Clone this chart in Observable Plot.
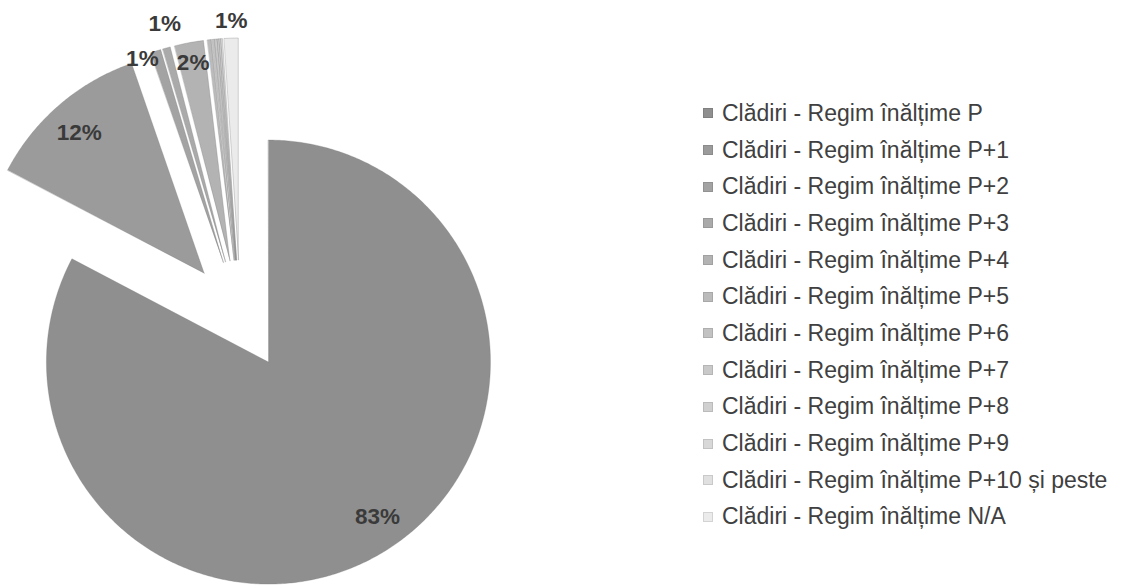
<!DOCTYPE html>
<html><head><meta charset="utf-8">
<script src="https://cdn.jsdelivr.net/npm/d3@7"></script>
<script src="https://cdn.jsdelivr.net/npm/@observablehq/plot@0.6"></script>
<style>
html,body{margin:0;padding:0;background:#fff;}
body{width:1125px;height:587px;overflow:hidden;position:relative;font-family:"Liberation Sans",Arial,sans-serif;}
#chart{position:absolute;left:0;top:0;}
#legend{position:absolute;left:703px;top:95px;}
.item{display:flex;align-items:center;height:36.7px;font-size:23px;color:#404040;white-space:nowrap;}
.sw{width:10px;height:10px;margin-right:9px;box-sizing:border-box;flex:none;}
</style></head><body>
<div id="chart"></div><div id="legend"></div>
<script>
// ---- data ----
const categories = [
  "Clădiri - Regim înălțime P",
  "Clădiri - Regim înălțime P+1",
  "Clădiri - Regim înălțime P+2",
  "Clădiri - Regim înălțime P+3",
  "Clădiri - Regim înălțime P+4",
  "Clădiri - Regim înălțime P+5",
  "Clădiri - Regim înălțime P+6",
  "Clădiri - Regim înălțime P+7",
  "Clădiri - Regim înălțime P+8",
  "Clădiri - Regim înălțime P+9",
  "Clădiri - Regim înălțime P+10 și peste",
  "Clădiri - Regim înălțime N/A"
];
const shares = [82.7, 12.0, 0.75, 0.55, 2.1, 0.25, 0.2, 0.15, 0.1, 0.1, 0.1, 1.0];

// ---- styles / layout ----
const palette = ["#8f8f8f","#9b9b9b","#a3a3a3","#aaaaaa","#b3b3b3","#bbbbbb",
                 "#c2c2c2","#c9c9c9","#d0d0d0","#d8d8d8","#e0e0e0","#ebebeb"];
const labelRadius = [0.85, 0.85, 0.99, 1.11, 0.91, 1, 1, 1, 1, 1, 1, 1.08];
const labelTurn   = [-4, -1, -4, 1, 0, 0, 0, 0, 0, 0, 0, 0];
const W = 690, H = 587;
const CX = 240, CY = 315, R = 222, EXPLODE = 55;

const rows = categories.map((cat, i) => ({cat, share: shares[i], i}));
const total = d3.sum(shares);
const arcs = d3.pie().sort(null).value(d => d.share)(rows);

const wedgePts = arcs.flatMap(a => {
  const mid = (a.startAngle + a.endAngle) / 2;
  const ax = CX + EXPLODE * Math.sin(mid), ay = CY - EXPLODE * Math.cos(mid);
  const n = Math.max(2, Math.ceil((a.endAngle - a.startAngle) / 0.01));
  return d3.range(n + 1).map(k => {
    const t = a.startAngle + (a.endAngle - a.startAngle) * k / n;
    return {cat: a.data.cat, px: ax + R * Math.sin(t), py: ay - R * Math.cos(t), ax, ay};
  });
});

const labels = arcs.map(a => {
  const i = a.data.i;
  const mid = (a.startAngle + a.endAngle) / 2;
  const ax = CX + EXPLODE * Math.sin(mid), ay = CY - EXPLODE * Math.cos(mid);
  const ang = mid + labelTurn[i] * Math.PI / 180;
  const rr = R * labelRadius[i];
  return {text: Math.round(a.data.share / total * 100) + "%",
          x: ax + rr * Math.sin(ang), y: ay - rr * Math.cos(ang)};
}).filter(d => d.text !== "0%");

const chart = Plot.plot({
  width: W, height: H, margin: 0,
  x: {domain: [0, W], range: [0, W], axis: null},
  y: {domain: [0, H], range: [0, H], axis: null},
  color: {domain: categories, range: palette},
  style: {background: "transparent", fontFamily: "Liberation Sans, Arial, sans-serif"},
  marks: [
    Plot.area(wedgePts, {x1: "px", y1: "py", x2: "ax", y2: "ay", z: "cat", fill: "cat", curve: "linear"}),
    Plot.area(wedgePts, {x1: "px", y1: "py", x2: "ax", y2: "ay", z: "cat", fill: "none",
      stroke: "#7a7a7a", strokeOpacity: 0.45, strokeWidth: 0.7, curve: "linear"}),
    Plot.text(labels, {x: "x", y: "y", text: "text", fontSize: 22.5, fontWeight: "bold", fill: "#3a3a3a"})
  ]
});
document.getElementById("chart").appendChild(chart);

const legend = document.getElementById("legend");
categories.forEach((c, i) => {
  const item = document.createElement("div");
  item.className = "item";
  const sw = document.createElement("div");
  sw.className = "sw";
  sw.style.background = palette[i];
  sw.style.border = "1px solid " + d3.color(palette[i]).darker(0.3);
  const t = document.createElement("span");
  t.textContent = c;
  item.appendChild(sw); item.appendChild(t);
  legend.appendChild(item);
});
</script>
</body></html>
